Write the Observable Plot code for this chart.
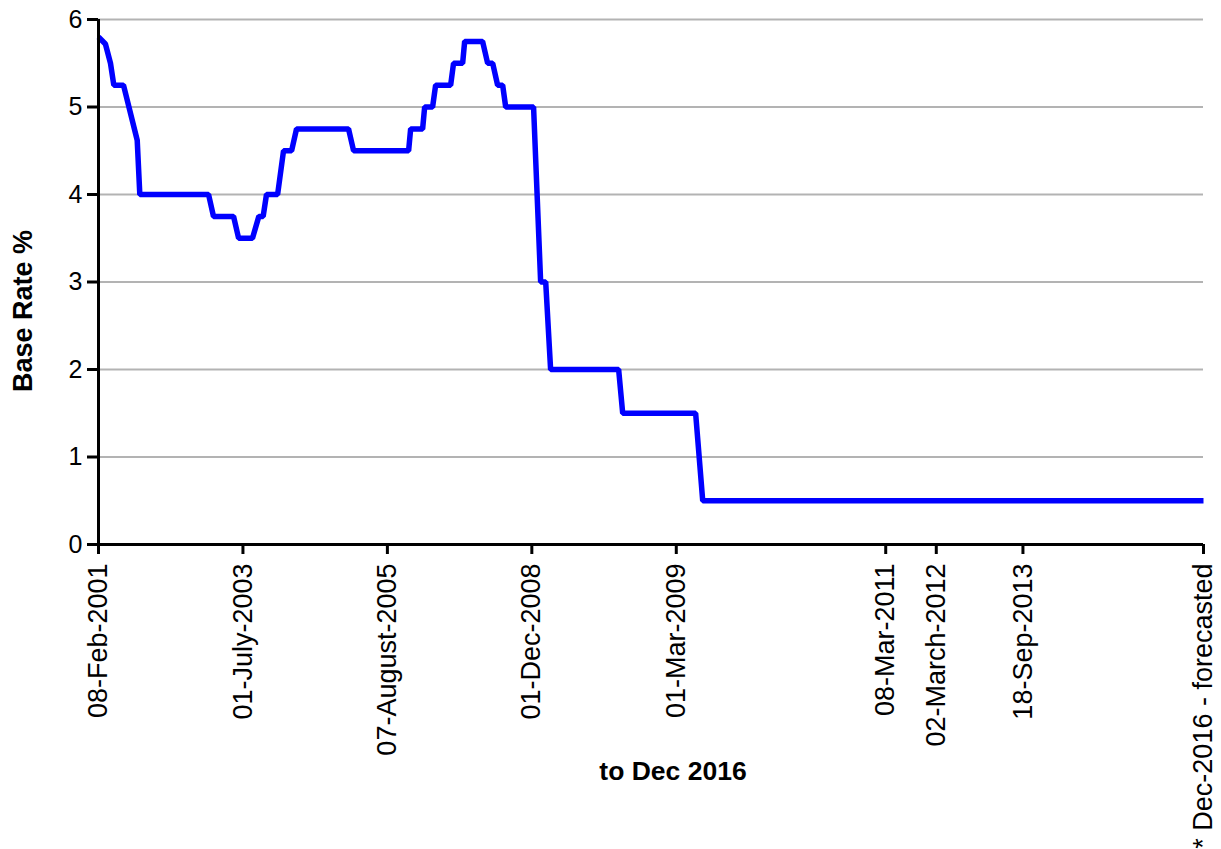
<!DOCTYPE html>
<html>
<head>
<meta charset="utf-8">
<script src="https://cdn.jsdelivr.net/npm/d3@7"></script>
<script src="https://cdn.jsdelivr.net/npm/@observablehq/plot@0.6"></script>
<style>
  html, body { margin: 0; padding: 0; background: #ffffff; }
</style>
</head>
<body>
<div id="chart"></div>
<script>
// Position along the (index-based) x axis for each vertex of the line
const xPos = [0, 0.48, 0.83, 1.06, 1.73, 2.68, 2.86, 7.62, 7.96, 9.35, 9.70, 10.66, 11.1, 11.4,
  11.63, 12.40, 12.81, 13.37, 13.71, 17.31, 17.66, 21.47, 21.61, 22.44, 22.58, 23.13, 23.34,
  24.38, 24.58, 25.21, 25.35, 26.59, 26.94, 27.29, 27.63, 27.98, 28.19, 30.12, 30.61, 30.96,
  31.30, 36.01, 36.29, 41.34, 41.83, 76.5];
// Base rate (%) at each vertex
const rate = [5.8, 5.72, 5.5, 5.25, 5.25, 4.62, 4.0, 4.0, 3.75, 3.75, 3.5, 3.5, 3.75, 3.75,
  4.0, 4.0, 4.5, 4.5, 4.75, 4.75, 4.5, 4.5, 4.75, 4.75, 5.0, 5.0, 5.25,
  5.25, 5.5, 5.5, 5.75, 5.75, 5.5, 5.5, 5.25, 5.25, 5.0, 5.0, 3.0, 3.0,
  2.0, 2.0, 1.5, 1.5, 0.5, 0.5];

// X tick positions and labels
const tickPos = [0, 10, 20, 30, 40, 54.5, 58, 64, 76.5];
const tickLabels = ["08-Feb-2001", "01-July-2003", "07-August-2005", "01-Dec-2008",
  "01-Mar-2009", "08-Mar-2011", "02-March-2012", "18-Sep-2013", "* Dec-2016 - forecasted"];

const yTicks = [0, 1, 2, 3, 4, 5, 6];
const gridValues = [1, 2, 3, 4, 5, 6];

const data = xPos.map((x, i) => ({x, y: rate[i]}));
const labelMap = new Map(tickPos.map((p, i) => [p, tickLabels[i]]));

const chart = Plot.plot({
  width: 1221,
  height: 849,
  marginLeft: 98,
  marginRight: 18,
  marginTop: 19,
  marginBottom: 305,
  style: {fontFamily: "'Liberation Sans', Arial, sans-serif", background: "#ffffff", color: "#000000"},
  x: {type: "linear", domain: [0, 76.5]},
  y: {domain: [0, 6]},
  marks: [
    Plot.ruleY(gridValues, {stroke: "#b3b3b3", strokeWidth: 2}),
    Plot.line(data, {x: "x", y: "y", stroke: "#0000ff", strokeWidth: 5.5, strokeLinejoin: "miter", strokeLinecap: "butt"}),
    Plot.ruleX([0], {stroke: "#000000", strokeWidth: 3}),
    Plot.ruleY([0], {stroke: "#000000", strokeWidth: 3}),
    Plot.axisY({ticks: yTicks, tickSize: 11, tickPadding: 5, fontSize: 25, strokeWidth: 3, label: null, tickFormat: d => String(d)}),
    Plot.axisX({ticks: tickPos, tickSize: 10, tickPadding: 9, tickRotate: -90, fontSize: 27, strokeWidth: 3, label: null, tickFormat: d => labelMap.get(d)}),
    Plot.text(["Base Rate %"], {frameAnchor: "left", rotate: -90, dx: -75, dy: 29, fontSize: 27, fontWeight: "bold", lineAnchor: "middle", textAnchor: "middle"}),
    Plot.text(["to Dec 2016"], {frameAnchor: "bottom", dx: 22, dy: 227, fontSize: 26.5, fontWeight: "bold", lineAnchor: "middle", textAnchor: "middle"})
  ]
});
document.getElementById("chart").appendChild(chart);
</script>
</body>
</html>
